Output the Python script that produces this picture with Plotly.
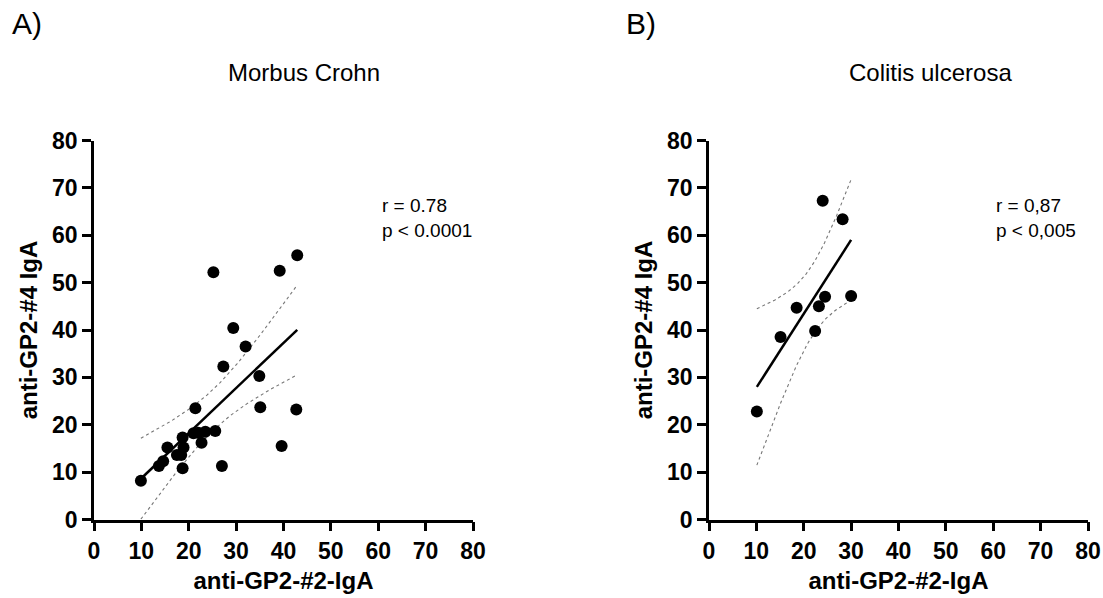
import math
import numpy as np
import plotly.graph_objects as go

# ---------------- data ----------------
cd_x = [9.9, 13.7, 14.6, 15.5, 17.5, 18.4, 18.7, 18.9, 18.7, 21.4, 21.0, 22.0, 22.7,
        23.5, 25.6, 25.2, 27.0, 27.3, 29.4, 32.0, 34.9, 35.1, 39.2, 39.6, 42.9, 42.7]
cd_y = [8.2, 11.3, 12.3, 15.2, 13.6, 13.6, 10.8, 15.2, 17.3, 23.5, 18.2, 18.3, 16.2,
        18.5, 18.7, 52.2, 11.3, 32.3, 40.4, 36.5, 30.3, 23.7, 52.5, 15.5, 55.8, 23.2]

uc_x = [10.1, 15.1, 18.5, 22.4, 23.2, 24.5, 24.0, 28.2, 30.0]
uc_y = [22.8, 38.5, 44.7, 39.8, 45.0, 47.0, 67.3, 63.4, 47.2]

tick_vals = [0, 10, 20, 30, 40, 50, 60, 70, 80]
panel_titles = ["Morbus Crohn", "Colitis ulcerosa"]
panel_letters = ["A)", "B)"]
stats_text = ["r = 0.78<br>p < 0.0001", "r = 0,87<br>p < 0,005"]
x_title = "anti-GP2-#2-IgA"
y_title = "anti-GP2-#4 IgA"


# ---------------- helpers ----------------
def t_quantile(p, df):
    c = math.gamma((df + 1) / 2) / (math.sqrt(df * math.pi) * math.gamma(df / 2))

    def cdf_half(t):
        g = np.linspace(0, t, 4001)
        f = c * (1 + g ** 2 / df) ** (-(df + 1) / 2)
        return np.trapezoid(f, g)

    target = p - 0.5
    lo, hi = 0.0, 20.0
    for _ in range(60):
        mid = (lo + hi) / 2
        if cdf_half(mid) < target:
            lo = mid
        else:
            hi = mid
    return (lo + hi) / 2


def fit_band(xs, ys):
    x = np.asarray(xs, float)
    y = np.asarray(ys, float)
    n = len(x)
    b, a = np.polyfit(x, y, 1)
    res = y - (a + b * x)
    s = math.sqrt(np.sum(res ** 2) / (n - 2))
    sxx = np.sum((x - x.mean()) ** 2)
    t = t_quantile(0.975, n - 2)
    gx = np.linspace(x.min(), x.max(), 100)
    gy = a + b * gx
    half = t * s * np.sqrt(1 / n + (gx - x.mean()) ** 2 / sxx)
    return gx, gy, gy - half, gy + half


W, H = 1103, 598
FONT = "Liberation Sans, Arial, sans-serif"

fig = go.Figure()

panels = [(cd_x, cd_y), (uc_x, uc_y)]
for i, (xs, ys) in enumerate(panels):
    xa = "x" if i == 0 else "x2"
    ya = "y" if i == 0 else "y2"
    gx, gy, lo, hi = fit_band(xs, ys)
    for band in (lo, hi):
        fig.add_trace(go.Scatter(x=gx, y=band, mode="lines", xaxis=xa, yaxis=ya,
                                 line=dict(color="#777777", width=1.1, dash="dot"),
                                 showlegend=False, hoverinfo="skip"))
    fig.add_trace(go.Scatter(x=gx, y=gy, mode="lines", xaxis=xa, yaxis=ya,
                             line=dict(color="black", width=2.5),
                             showlegend=False, hoverinfo="skip"))
    fig.add_trace(go.Scatter(x=xs, y=ys, mode="markers", xaxis=xa, yaxis=ya,
                             marker=dict(color="black", size=12),
                             showlegend=False))

x_domains = [[94 / W, 473 / W], [709 / W, 1088 / W]]
y_domain = [1 - 519.5 / H, 1 - 140.5 / H]

axis_common = dict(
    range=[0, 80], tickvals=tick_vals, showline=True, linecolor="black", linewidth=2.5,
    ticks="outside", ticklen=9, tickwidth=2.5, tickcolor="black",
    showgrid=False, zeroline=False, automargin=False,
    tickfont=dict(family=FONT, size=23, color="black", weight="bold"),
    title_font=dict(family=FONT, size=24, color="black", weight="bold"),
    fixedrange=True,
)

fig.update_layout(
    width=W, height=H, margin=dict(l=0, r=0, t=0, b=0, autoexpand=False),
    paper_bgcolor="white", plot_bgcolor="white",
    xaxis=dict(domain=x_domains[0], anchor="y", title=dict(text=x_title, standoff=10), **axis_common),
    yaxis=dict(domain=y_domain, anchor="x", title=dict(text=y_title, standoff=8), **axis_common),
    xaxis2=dict(domain=x_domains[1], anchor="y2", title=dict(text=x_title, standoff=10), **axis_common),
    yaxis2=dict(domain=y_domain, anchor="x2", title=dict(text=y_title, standoff=8), **axis_common),
)

ann = []
title_cx = [304 / W, 930 / W]
letter_x = [10 / W, 624 / W]
stats_x = [380 / W, 994 / W]
for i in range(2):
    ann.append(dict(text=panel_titles[i], x=title_cx[i], y=1 - 72 / H, xref="paper", yref="paper",
                    xanchor="center", yanchor="middle", showarrow=False,
                    font=dict(family=FONT, size=24, color="black")))
    ann.append(dict(text=panel_letters[i], x=letter_x[i], y=1 - 24 / H, xref="paper", yref="paper",
                    xanchor="left", yanchor="middle", showarrow=False,
                    font=dict(family=FONT, size=30, color="black")))
    ann.append(dict(text=stats_text[i], x=stats_x[i], y=1 - 193 / H, xref="paper", yref="paper",
                    xanchor="left", yanchor="top", align="left", showarrow=False,
                    font=dict(family=FONT, size=19, color="black")))
fig.update_layout(annotations=ann)

fig.write_html("out.html")
